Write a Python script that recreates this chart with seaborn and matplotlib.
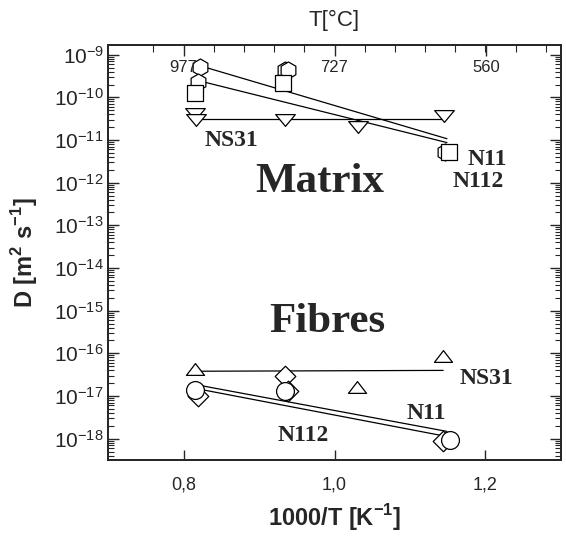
import numpy as np
import pandas as pd
import matplotlib
matplotlib.use("Agg")
import matplotlib.pyplot as plt
import seaborn as sns
from matplotlib.path import Path
from matplotlib.ticker import LogLocator, FixedLocator, NullFormatter

sns.set_style("ticks")
plt.rcParams["font.family"] = ["Liberation Sans", "DejaVu Sans"]
plt.rcParams["mathtext.fontset"] = "custom"
plt.rcParams["mathtext.rm"] = "Liberation Sans"
plt.rcParams["mathtext.bf"] = "Liberation Sans:bold"

# --- matrix data (x = 1000/T, y = log10 D) ---
mat_hex_x = [0.822, 0.819, 0.934, 0.938, 1.146]
mat_hex_y = [-9.30, -9.63, -9.35, -9.37, -11.27]
mat_sq_x = [0.815, 0.932, 1.152]
mat_sq_y = [-9.89, -9.66, -11.27]
mat_ns31_x = [0.815, 0.817, 0.934, 1.031, 1.145]
mat_ns31_y = [-10.38, -10.52, -10.52, -10.69, -10.43]

# --- fibre data ---
fib_circ_x = [0.815, 0.934, 1.153]
fib_circ_y = [-16.87, -16.89, -18.02]
fib_dia_x = [0.819, 0.934, 0.938, 1.144]
fib_dia_y = [-17.01, -16.54, -16.89, -18.06]
fib_ns31_x = [0.815, 1.030, 1.144]
fib_ns31_y = [-16.36, -16.80, -16.07]

# --- fitted lines (end points) ---
fit_mat_n11_x = [0.82, 1.149]
fit_mat_n11_y = [-9.25, -10.97]
fit_mat_n112_x = [0.82, 1.149]
fit_mat_n112_y = [-9.61, -11.06]
fit_mat_ns31_x = [0.815, 1.145]
fit_mat_ns31_y = [-10.50, -10.50]
fit_fib_n11_x = [0.815, 1.149]
fit_fib_n11_y = [-16.73, -17.83]
fit_fib_n112_x = [0.815, 1.149]
fit_fib_n112_y = [-16.82, -17.95]
fit_fib_ns31_x = [0.815, 1.144]
fit_fib_ns31_y = [-16.42, -16.40]

# top axis temperatures
temps_C = [977, 727, 560]
xticks = [0.8, 1.0, 1.2]
xticklabels = ["0,8", "1,0", "1,2"]

# flat triangles
tri_down = Path([(-1, 0.6), (1, 0.6), (0, -0.6), (-1, 0.6)],
                [Path.MOVETO, Path.LINETO, Path.LINETO, Path.CLOSEPOLY])
tri_up = Path([(-1, -0.65), (1, -0.65), (0, 0.65), (-1, -0.65)],
              [Path.MOVETO, Path.LINETO, Path.LINETO, Path.CLOSEPOLY])

fig = plt.figure(figsize=(5.66, 5.38), dpi=100)
ax = fig.add_axes([0.191, 0.145, 0.800, 0.7716])

lw = 0.9
for fx, fy in [(fit_mat_n11_x, fit_mat_n11_y), (fit_mat_n112_x, fit_mat_n112_y),
               (fit_mat_ns31_x, fit_mat_ns31_y), (fit_fib_n11_x, fit_fib_n11_y),
               (fit_fib_n112_x, fit_fib_n112_y), (fit_fib_ns31_x, fit_fib_ns31_y)]:
    sns.lineplot(x=fx, y=10.0 ** np.array(fy), ax=ax, color="black",
                 linewidth=lw, estimator=None, sort=False, zorder=2)

def pts(xs, ys, marker, s):
    df = pd.DataFrame({"x": xs, "D": 10.0 ** np.array(ys)})
    sns.scatterplot(data=df, x="x", y="D", ax=ax, marker=marker, s=s,
                    facecolor="white", edgecolor="black", linewidth=0.9,
                    zorder=3)

pts(mat_ns31_x, mat_ns31_y, tri_down, 200)
pts(mat_hex_x, mat_hex_y, "h", 150)
pts(mat_sq_x, mat_sq_y, "s", 140)
pts(fib_ns31_x, fib_ns31_y, tri_up, 170)
pts(fib_dia_x, fib_dia_y, "D", 110)
pts(fib_circ_x, fib_circ_y, "o", 165)

ax.set_yscale("log")
ax.set_xlim(0.7, 1.3)
ax.set_ylim(10 ** -18.5, 10 ** -8.77)
ax.set_xticks(xticks)
ax.set_xticklabels(xticklabels, fontsize=13)
ax.yaxis.set_major_locator(LogLocator(base=10, numticks=20))
ax.yaxis.set_minor_locator(LogLocator(base=10, subs=np.arange(2, 10), numticks=20))
ax.yaxis.set_minor_formatter(NullFormatter())
ax.tick_params(axis="y", which="major", labelsize=15, direction="in",
               length=8, width=1, right=True, pad=3)
ax.tick_params(axis="y", which="minor", direction="in", length=4, width=0.8,
               right=True)
ax.tick_params(axis="x", which="major", direction="in", length=7, width=1,
               pad=12)
for sp in ax.spines.values():
    sp.set_linewidth(1.3)

ax.set_xlabel("1000/T [K$^{\\mathbf{-1}}$]", fontsize=17, fontweight="bold",
              labelpad=6)
ax.set_ylabel("D [m$^{\\mathbf{2}}$ s$^{\\mathbf{-1}}$]", fontsize=17,
              fontweight="bold", labelpad=10)

# top temperature axis
top = ax.twiny()
top.set_xlim(ax.get_xlim())
top.set_xticks([1000.0 / (t + 273) for t in temps_C])
top.set_xticklabels([str(t) for t in temps_C], fontsize=12)
top.xaxis.set_minor_locator(FixedLocator(np.arange(0.76, 1.29, 0.04)))
top.tick_params(axis="x", which="major", direction="in", length=8, width=1,
                pad=-22)
top.tick_params(axis="x", which="minor", direction="in", length=5, width=0.8)
top.set_xlabel("T[°C]", fontsize=16, labelpad=10)
for sp in top.spines.values():
    sp.set_linewidth(1.3)

serif = ["Liberation Serif", "DejaVu Serif"]
ax.text(0.981, 10 ** -12.23, "Matrix", family=serif, fontweight="bold",
        fontsize=31, ha="center", va="baseline")
ax.text(0.99, 10 ** -15.51, "Fibres", family=serif, fontweight="bold",
        fontsize=31, ha="center", va="baseline")
small = [("NS31", 0.828, -11.13), ("N11", 1.177, -11.58), ("N112", 1.157, -12.11),
         ("NS31", 1.166, -16.73), ("N11", 1.096, -17.55), ("N112", 0.924, -18.06)]
for lab, lx, ly in small:
    ax.text(lx, 10 ** ly, lab, family=serif, fontweight="bold", fontsize=17,
            ha="left", va="baseline")

fig.savefig("out.png", dpi=100)
